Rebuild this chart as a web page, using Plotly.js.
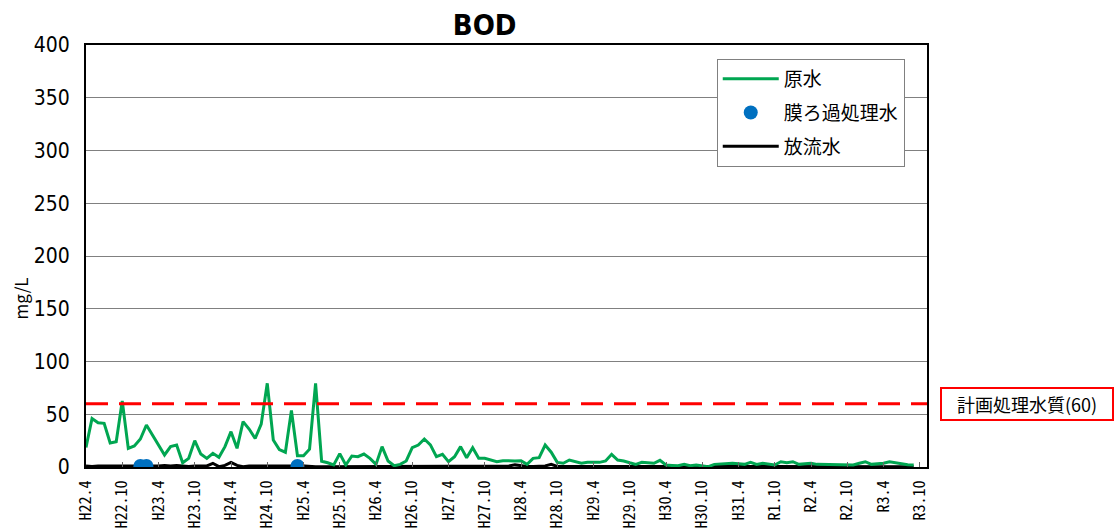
<!DOCTYPE html>
<html>
<head>
<meta charset="utf-8">
<script src="https://cdn.plot.ly/plotly-3.0.1.min.js"></script>
<style>html,body{margin:0;padding:0;background:#fff;}#chart{width:1114px;height:528px;}</style>
</head>
<body>
<div id="chart"></div>
<script>
// Month index 0 = H22.4 (monthly samples)
const tickLabels = ["H22.4","H22.10","H23.4","H23.10","H24.4","H24.10","H25.4","H25.10","H26.4","H26.10","H27.4","H27.10","H28.4","H28.10","H29.4","H29.10","H30.4","H30.10","H31.4","R1.10","R2.4","R2.10","R3.4","R3.10"];
const tickMonths = [0,6,12,18,24,30,36,42,48,54,60,66,72,78,84,90,96,102,108,114,120,126,132,138];

// 原水 (raw water) BOD, mg/L
const rawWater = [
  18.6, 46, 42, 41.4, 22.7, 24, 62.6, 17.7, 20, 26.5,
  39.8, 30, 21, 11.4, 19.3, 20.8, 4, 8.2, 25, 12.3,
  8.2, 13, 9.2, 19.3, 33.5, 17.7, 43, 36, 27, 40.6,
  79.3, 25.6, 16.5, 14, 53.7, 10.7, 10.7, 16.9, 79.3, 5.5,
  4, 2, 12.7, 1.9, 10.4, 9.8, 12.3, 8.2, 2.5, 19.3,
  5.7, 1.2, 2.5, 5.7, 18.3, 20.8, 26.5, 21, 9.8, 12,
  5, 9.8, 19.3, 8.8, 18.3, 8.2, 8.2, 6.6, 5, 6,
  5.7, 5.8, 6, 2.5, 8.2, 8.8, 20.8, 14, 4.4, 3.5,
  6.6, 5, 3.5, 4.4, 4.4, 4.4, 5.7, 12, 6.6, 5.7,
  4, 2.5, 4.4, 4, 3.5, 6.3, 1.9, 1.5, 1.2, 2.5,
  1.2, 1.9, 1, 0.3, 2.5, 3, 3.2, 3.5, 3, 2.5,
  4.4, 2.5, 3.5, 2.5, 1.9, 5, 4, 5, 2.5, 3,
  3.5, 2.5, 2.5, 2.5, 2.3, 2, 1.9, 1.9, 3.5, 5,
  2.5, 3, 3.5, 5, 4, 2.5, 2.2, 1.9
];

// 放流水 (effluent) BOD, mg/L
const effluent = [
  1, 0.5, 1, 1, 0.5, 1, 1, 1, 0.5, 1,
  1, 1, 1, 1.5, 1, 1.5, 1, 0.5, 1, 1,
  1, 3.5, 0.3, 1.5, 4.4, 1.5, 0.3, 1, 1, 1,
  1, 1, 0.5, 1, 1, 1.5, 1, 0.5, 0.3, 0.3,
  0.3, 0.3, 0.5, 0.3, 0.5, 0.5, 0.3, 0.5, 0.5, 0.3,
  0.5, 0.3, 0.5, 0.5, 0.3, 0.5, 0.5, 0.5, 0.3, 0.5,
  0.5, 0.3, 0.5, 0.5, 0.5, 0.3, 0.5, 0.5, 0.5, 0.8,
  1, 2, 1, 0.5, 0.5, 0.5, 1, 2.5, 0.5, 0.5,
  0.5, 0.3, 0.5, 0.5, 0.3, 0.5, 0.5, 0.5, 0.5, 0.3,
  0.5, 0.5, 0.3, 0.5, 0.5, 0.5, 0.3, 0.5, 0.5, 0.5,
  0.5, 0.3, 0.5, 0.5, 0.5, 0.3, 0.5, 0.5, 0.5, 0.5,
  0.3, 0.5, 0.5, 0.5, 0.3, 0.5, 0.5, 0.5, 0.5, 0.3,
  0.5, 0.5, 0.5, 0.3, 0.5, 0.5, 0.5, 0.5, 0.3, 0.5,
  0.5, 0.5, 0.3, 0.5, 0.5, 0.5, 0.5, 0.3
];

// 膜ろ過処理水 (membrane-filtered water) samples
const membraneMonths = [9, 10, 35];
const membraneValues = [1, 1, 1];

const planQuality = 60;
const planLabel = "計画処理水質(60)";

const idx = rawWater.map((_, i) => i);
const idxE = effluent.map((_, i) => i);

const cjk = "'Noto Sans CJK JP', sans-serif";
const mono = "'Noto Sans Mono CJK JP', 'Noto Sans CJK JP', sans-serif";
const narrow = "'DejaVu Sans Condensed', 'Liberation Sans Narrow', sans-serif";

const traces = [
  {x: idxE, y: effluent, name: "放流水", type: "scatter", mode: "lines",
   line: {color: "#000000", width: 3}, legendgroup: "c", legendrank: 3},
  {x: idx, y: rawWater, name: "原水", type: "scatter", mode: "lines",
   line: {color: "#00a651", width: 3}, legendgroup: "a", legendrank: 1},
  {x: membraneMonths, y: membraneValues, name: "膜ろ過処理水", type: "scatter", mode: "markers",
   marker: {color: "#0070c0", size: 14}, legendgroup: "b", legendrank: 2}
];

const layout = {
  width: 1114, height: 528,
  margin: {l: 86, r: 187, t: 45, b: 61},
  paper_bgcolor: "#fff", plot_bgcolor: "#fff",
  showlegend: true,
  title: {text: "<b>BOD</b>", font: {family: narrow, size: 29, color: "#000"},
          x: 0.474, xanchor: "center", xref: "paper", y: 0.953, yanchor: "middle", yref: "container"},
  xaxis: {
    range: [0, 139.2], tickmode: "array", tickvals: tickMonths, ticktext: tickLabels,
    tickangle: -90, tickfont: {family: mono, size: 16, color: "#000"},
    ticks: "inside", ticklen: 5, tickcolor: "#666", ticklabelstandoff: 5,
    showgrid: false, zeroline: false,
    showline: true, linecolor: "#000", linewidth: 2, mirror: true
  },
  yaxis: {
    range: [0, 400], dtick: 50, tick0: 0,
    tickfont: {family: narrow, size: 21, color: "#000"},
    showgrid: true, gridcolor: "#808080", gridwidth: 1,
    zeroline: false, ticks: "", ticklabelstandoff: 10,
    showline: true, linecolor: "#000", linewidth: 2, mirror: true
  },
  legend: {
    x: 0.75, y: 0.967, xanchor: "left", yanchor: "top",
    bgcolor: "#fff", bordercolor: "#808080", borderwidth: 1,
    font: {family: cjk, size: 19, color: "#000"},
    traceorder: "grouped", tracegroupgap: 6, itemwidth: 56
  },
  shapes: [
    {type: "line", xref: "paper", x0: 0, x1: 1, yref: "y", y0: planQuality, y1: planQuality,
     line: {color: "#ff0000", width: 3, dash: "22px,11px"}}
  ],
  annotations: [
    {xref: "paper", yref: "y", x: 1.119, y: planQuality, text: planLabel, showarrow: false,
     font: {family: cjk, size: 18, color: "#000"},
     bordercolor: "#ff0000", borderwidth: 2, bgcolor: "#fff",
     width: 168, height: 28, xanchor: "center", yanchor: "middle"},
    {xref: "paper", yref: "paper", x: -0.078, y: 0.4, text: "mg/L", showarrow: false,
     textangle: -90, font: {family: cjk, size: 17, color: "#000"},
     xanchor: "center", yanchor: "middle"}
  ]
};

Plotly.newPlot("chart", traces, layout, {displayModeBar: false, staticPlot: true});
</script>
</body>
</html>
